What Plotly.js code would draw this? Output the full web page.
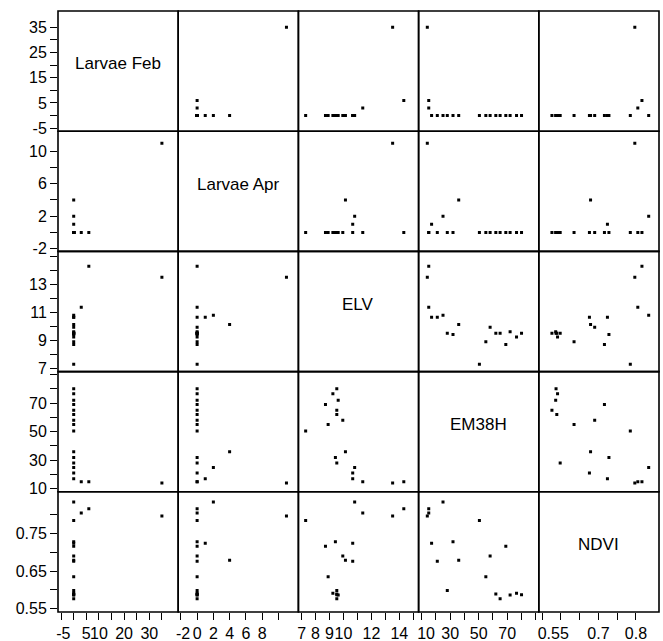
<!DOCTYPE html>
<html>
<head>
<meta charset="utf-8">
<script src="https://cdn.plot.ly/plotly-3.0.1.min.js"></script>
<style>
html,body{margin:0;padding:0;background:#fff;}
#chart{width:663px;height:641px;}
</style>
</head>
<body>
<div id="chart"></div>
<script>
// ---- data (one value per observation) ----
const varNames = ['Larvae Feb', 'Larvae Apr', 'ELV', 'EM38H', 'NDVI'];
const larvaeFeb = [6, 35, 3, 0, 0, 0, 0, 0, 0, 0, 0, 0, 0, 0, 0, 0, 0, 0];
const larvaeApr = [0, 11, 0, 1, 0, 2, 4, 0, 0, 0, 0, 0, 0, 0, 0, 0, 0, 0];
const elv = [14.32, 13.52, 11.38, 10.66, 10.66, 10.8, 10.14, 9.52, 9.42, 9.95, 9.52, 9.52, 9.62, 9.52, 9.24, 8.9, 8.71, 7.29];
const em38h = [15, 14, 15, 17, 21, 25, 36, 28, 32, 58, 62, 65, 72, 80, 76.5, 55, 69, 50.5];
const ndvi = [0.816, 0.797, 0.805, 0.724, 0.676, 0.834, 0.679, 0.598, 0.728, 0.690, 0.589, 0.576, 0.586, 0.587, 0.591, 0.635, 0.716, 0.785];

// ---- tick values and labels ----
const NB = '\u00a0';
const febTicks = [-5, 0, 5, 10, 15, 20, 25, 30, 35];
const febXLabels = [NB + '-5', '', '5', '10', '', '20', '', '30', ''];
const febYLabels = ['-5', '', '5', '', '15', '', '25', '', '35'];
const aprTicks = [-2, 0, 2, 4, 6, 8, 10];
const aprXLabels = [NB + '-2', '0', '2', '4', '6', '8', ''];
const aprYLabels = ['-2', '', '2', '', '6', '', '10'];
const elvTicks = [7, 8, 9, 10, 11, 12, 13, 14, 15];
const elvXLabels = ['7', '8', '9', '10', '', '12', '', '14', ''];
const elvYLabels = ['7', '', '9', '', '11', '', '13', '', ''];
const emTicks = [10, 20, 30, 40, 50, 60, 70, 80, 90];
const emXLabels = [NB + NB + '10', '', '30', '', '50', '', '70', '', ''];
const emYLabels = ['10', '', '30', '', '50', '', '70', '', ''];
const ndviTicks = [0.55, 0.6, 0.65, 0.7, 0.75, 0.8];
const ndviXLabels = [NB.repeat(5) + '0.55', '', '', '0.7', '', '0.8'];
const ndviYLabels = ['0.55', '', '0.65', '', '0.75', ''];

const series = [larvaeFeb, larvaeApr, elv, em38h, ndvi];
const tickVals = [febTicks, aprTicks, elvTicks, emTicks, ndviTicks];
const xLabels = [febXLabels, aprXLabels, elvXLabels, emXLabels, ndviXLabels];
const yLabels = [febYLabels, aprYLabels, elvYLabels, emYLabels, ndviYLabels];
const ranges = [[-6.23, 41.47], [-2.33, 12.47], [6.77, 15.38], [7.9, 92.1], [0.541, 0.8615]];

const n = varNames.length;
const axName = (p, k) => p + (k === 0 ? '' : (k + 1));
const font = {family: '"Liberation Sans", Arial, Helvetica, sans-serif', color: '#000'};

const traces = [];
for (let i = 0; i < n; i++) {
  for (let j = 0; j < n; j++) {
    if (i === j) continue;
    traces.push({
      type: 'scatter', mode: 'markers',
      x: series[j], y: series[i],
      xaxis: axName('x', j), yaxis: axName('y', i),
      marker: {symbol: 'square', size: 3, color: '#000', line: {width: 0}},
      hoverinfo: 'skip', showlegend: false
    });
  }
}

const layout = {
  width: 663, height: 641,
  margin: {l: 58, r: 4, t: 11, b: 29, pad: 0},
  paper_bgcolor: '#fff', plot_bgcolor: '#fff',
  showlegend: false,
  font: Object.assign({size: 16}, font),
  shapes: [], annotations: []
};

for (let k = 0; k < n; k++) {
  layout[axName('xaxis', k)] = {
    domain: [k / n, (k + 1) / n],
    anchor: axName('y', n - 1),
    range: ranges[k],
    tickmode: 'array', tickvals: tickVals[k], ticktext: xLabels[k],
    tickangle: 0,
    ticks: 'outside', ticklen: 7, tickwidth: 1, tickcolor: '#000',
    showgrid: false, zeroline: false, showline: false,
    tickfont: Object.assign({size: 16}, font), fixedrange: true
  };
  layout[axName('yaxis', k)] = {
    domain: [(n - 1 - k) / n, (n - k) / n],
    anchor: 'x',
    range: ranges[k],
    tickmode: 'array', tickvals: tickVals[k], ticktext: yLabels[k],
    tickangle: 0,
    ticks: 'outside', ticklen: 7, tickwidth: 1, tickcolor: '#000',
    showgrid: false, zeroline: false, showline: false,
    tickfont: Object.assign({size: 16}, font), fixedrange: true
  };
}

for (let i = 0; i < n; i++) {
  for (let j = 0; j < n; j++) {
    layout.shapes.push({
      type: 'rect', xref: axName('x', j) + ' domain', yref: axName('y', i) + ' domain',
      x0: 0, x1: 1, y0: 0, y1: 1,
      line: {color: '#000', width: 1.6}, fillcolor: 'rgba(0,0,0,0)'
    });
  }
  layout.annotations.push({
    xref: axName('x', i) + ' domain', yref: axName('y', i) + ' domain',
    x: 0.5, y: 0.56, xanchor: 'center', yanchor: 'middle',
    text: varNames[i], showarrow: false,
    font: Object.assign({size: 17}, font)
  });
}

Plotly.newPlot('chart', traces, layout, {staticPlot: true, displayModeBar: false});
</script>
</body>
</html>
